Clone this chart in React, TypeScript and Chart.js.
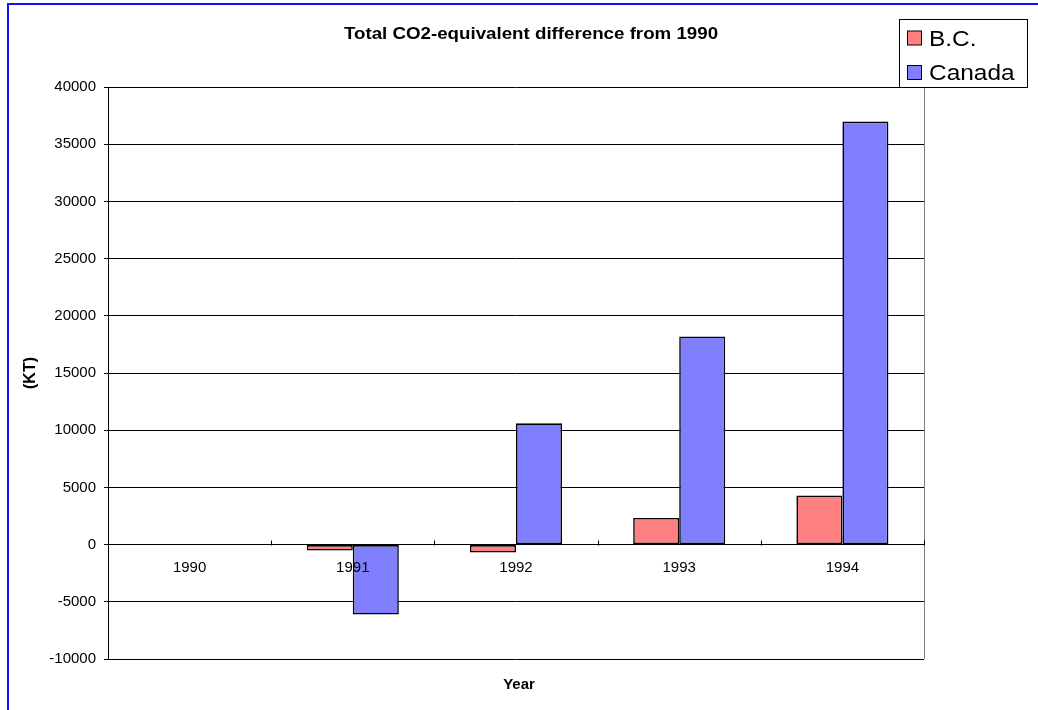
import React, { useEffect, useRef } from "react";
import { Chart, registerables } from "chart.js";

Chart.register(...registerables);

const categories = ["1990", "1991", "1992", "1993", "1994"];
const bcValues = [0, -520, -700, 2330, 4290];
const canadaValues = [0, -6120, 10600, 18200, 36980];
const seriesNames = ["B.C.", "Canada"];
const seriesColors = ["#ff8080", "#8080ff"];
const chartTitle = "Total CO2-equivalent difference from 1990";
const xTitle = "Year";
const yTitle = "(KT)";
const yMin = -10000;
const yMax = 40000;
const yStep = 5000;

const FONT = '"Liberation Sans", Arial, sans-serif';

function stretchedText(ctx: any, text: string, x: number, y: number, sx: number, align: string) {
  ctx.save();
  ctx.translate(x, y);
  ctx.scale(sx, 1);
  ctx.textAlign = align;
  ctx.fillText(text, 0, 0);
  ctx.restore();
}

const decorPlugin = {
  id: "decor",
  afterDraw(chart: any) {
    const ctx = chart.ctx;
    const area = chart.chartArea;
    const xs = chart.scales.x;
    const ys = chart.scales.y;
    ctx.save();
    // outer blue frame (left + top edges visible)
    ctx.fillStyle = "#1010ff";
    ctx.fillRect(7, 3, 2, 710);
    ctx.fillRect(7, 3, 1040, 2);

    // right border of plot area
    ctx.strokeStyle = "#808080";
    ctx.lineWidth = 1;
    ctx.beginPath();
    ctx.moveTo(Math.round(area.right) + 0.5, area.top);
    ctx.lineTo(Math.round(area.right) + 0.5, area.bottom);
    ctx.stroke();

    // category boundary tick marks on the zero axis (pointing up)
    const y0 = Math.round(ys.getPixelForValue(0)) + 0.5;
    ctx.strokeStyle = "#000";
    ctx.beginPath();
    for (let i = 0; i <= categories.length; i++) {
      let x;
      if (i === 0) x = area.left;
      else if (i === categories.length) x = area.right;
      else x = (xs.getPixelForTick(i - 1) + xs.getPixelForTick(i)) / 2;
      x = Math.round(x) + 0.5;
      ctx.moveTo(x, y0);
      ctx.lineTo(x, y0 - 5);
    }
    ctx.stroke();

    // title
    ctx.fillStyle = "#000";
    ctx.font = `bold 16px ${FONT}`;
    ctx.textBaseline = "middle";
    stretchedText(ctx, chartTitle, 531, 35, 1.17, "center");

    // x title
    ctx.font = `bold 15px ${FONT}`;
    stretchedText(ctx, xTitle, 519, 685, 1.0, "center");

    // legend
    ctx.fillStyle = "#fff";
    ctx.fillRect(899.5, 19.5, 128, 68);
    ctx.strokeStyle = "#000";
    ctx.strokeRect(899.5, 19.5, 128, 68);
    const rows = [38.5, 73];
    ctx.font = `22px ${FONT}`;
    seriesNames.forEach((name, i) => {
      const cy = rows[i];
      ctx.fillStyle = seriesColors[i];
      ctx.fillRect(907.5, cy - 7.5, 14, 14);
      ctx.strokeStyle = "#000";
      ctx.strokeRect(907.5, cy - 7.5, 14, 14);
      ctx.fillStyle = "#000";
      stretchedText(ctx, name, 929, cy + 1, 1.11, "left");
    });
    ctx.restore();
  },
};

export default function App() {
  const ref = useRef<HTMLCanvasElement | null>(null);
  useEffect(() => {
    if (!ref.current) return;
    const chart = new Chart(ref.current, {
      type: "bar",
      data: {
        labels: categories,
        datasets: [
          {
            label: seriesNames[0],
            data: bcValues,
            backgroundColor: seriesColors[0],
            borderColor: "#000000",
            borderWidth: 1.6,
            borderSkipped: false,
          },
          {
            label: seriesNames[1],
            data: canadaValues,
            backgroundColor: seriesColors[1],
            borderColor: "#000000",
            borderWidth: 1.6,
            borderSkipped: false,
          },
        ],
      },
      options: {
        responsive: false,
        animation: false,
        devicePixelRatio: 1,
        layout: { padding: { top: 87, bottom: 51, right: 114, left: 0 } },
        plugins: {
          legend: { display: false },
          title: { display: false },
          tooltip: { enabled: false },
        },
        datasets: {
          bar: { categoryPercentage: 0.564, barPercentage: 1 },
        },
        scales: {
          x: {
            position: { y: 0 } as any,
            grid: { display: false, drawTicks: false },
            border: { display: true, color: "#000", width: 1, z: 1 },
            ticks: {
              z: 1,
              color: "#000",
              font: { family: FONT, size: 15 },
              padding: 14,
              maxRotation: 0,
            },
          },
          y: {
            min: yMin,
            max: yMax,
            afterFit: (s: any) => {
              s.width = 108;
            },
            ticks: {
              stepSize: yStep,
              color: "#000",
              font: { family: FONT, size: 15 },
              padding: 8,
              callback: (v: any) => String(v),
            },
            grid: { color: "#000", lineWidth: 1, tickLength: 4, drawTicks: true },
            border: { display: true, color: "#000", width: 1 },
            title: {
              display: true,
              text: yTitle,
              color: "#000",
              font: { family: FONT, size: 16, weight: "bold" },
              padding: { top: 21, bottom: 0 },
            },
          },
        },
      },
      plugins: [decorPlugin],
    });
    return () => chart.destroy();
  }, []);
  return (
    <canvas
      ref={ref}
      width={1038}
      height={710}
      style={{ position: "fixed", left: 0, top: 0, width: 1038, height: 710, display: "block", background: "#fff" }}
    />
  );
}
